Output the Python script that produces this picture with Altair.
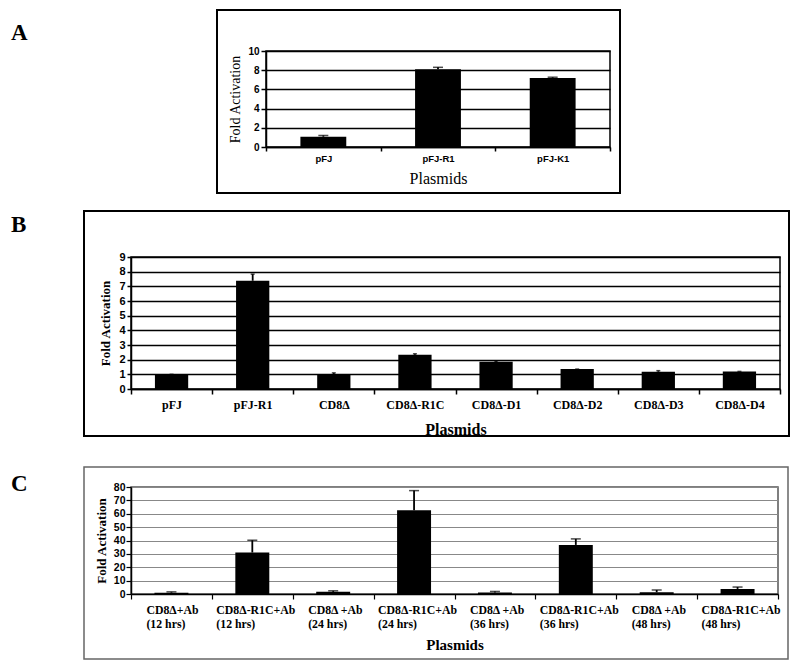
import altair as alt
import pandas as pd

# ---------------- data ----------------
A_cats = ["pFJ", "pFJ-R1", "pFJ-K1"]
A_vals = [1.07, 8.1, 7.2]
A_err = [0.13, 0.2, 0.07]

B_cats = ["pFJ", "pFJ-R1", "CD8Δ", "CD8Δ-R1C", "CD8Δ-D1", "CD8Δ-D2", "CD8Δ-D3", "CD8Δ-D4"]
B_vals = [1.0, 7.38, 1.03, 2.34, 1.86, 1.36, 1.18, 1.2]
B_err = [0.0, 0.45, 0.07, 0.06, 0.05, 0.0, 0.07, 0.0]

C_cats = ["CD8Δ+Ab|(12 hrs)", "CD8Δ-R1C+Ab|(12 hrs)", "CD8Δ +Ab|(24 hrs)", "CD8Δ-R1C+Ab|(24 hrs)",
          "CD8Δ +Ab|(36 hrs)", "CD8Δ-R1C+Ab|(36 hrs)", "CD8Δ +Ab|(48 hrs)", "CD8Δ-R1C+Ab|(48 hrs)"]
C_vals = [1.0, 31.0, 1.6, 62.7, 1.2, 36.7, 1.3, 3.8]
C_err = [0.6, 9.2, 0.8, 14.6, 0.7, 4.5, 1.7, 1.4]

A_ticks = [0, 2, 4, 6, 8, 10]
B_ticks = [0, 1, 2, 3, 4, 5, 6, 7, 8, 9]
C_ticks = [0, 10, 20, 30, 40, 50, 60, 70, 80]

SERIF = "Liberation Serif"
SANS = "Liberation Sans"
LETTER_X = -120


def one_row():
    return pd.DataFrame({"k": [0]})


def letter_layer(letter, ly):
    return alt.Chart(one_row()).mark_text(
        align="left", baseline="alphabetic", font=SERIF, fontWeight="bold", fontSize=23, color="black"
    ).encode(x=alt.value(LETTER_X), y=alt.value(ly), text=alt.value(letter))


def panel(cats, vals, errs, ymax, w, h, xaxis, yaxis, bar_frac, cap,
          frame, frame_color, frame_w, view_color, letter=None, extra=None):
    df = pd.DataFrame({"cat": cats, "val": vals, "top": [v + e for v, e in zip(vals, errs)]})
    x = alt.X("cat:N", sort=cats, scale=alt.Scale(paddingInner=0, paddingOuter=0), axis=xaxis)
    yscale = alt.Scale(domain=[0, ymax], nice=False)
    base = alt.Chart(df)
    bars = base.mark_bar(color="black", width=alt.RelativeBandSize(bar_frac)).encode(
        x=x, y=alt.Y("val:Q", scale=yscale, axis=yaxis)
    )
    rule = base.mark_rule(color="black", strokeWidth=1.8).encode(
        x=x, y=alt.Y("val:Q", scale=yscale, axis=yaxis), y2="top:Q"
    )
    capm = base.mark_tick(color="black", size=cap, thickness=1.5).encode(
        x=x, y=alt.Y("top:Q", scale=yscale, axis=yaxis)
    )
    fl, fr, ft, fb = frame
    box = alt.Chart(one_row()).mark_rect(filled=False, stroke=frame_color, strokeWidth=frame_w).encode(
        x=alt.value(fl), x2=alt.value(w + fr), y=alt.value(ft), y2=alt.value(h + fb)
    )
    layers = [bars, rule, capm, box]
    if extra is not None:
        layers += extra(base, x)
    if letter is not None:
        layers.append(letter_layer(*letter))
    return alt.layer(*layers).properties(
        width=w, height=h,
        view=alt.ViewBackground(stroke=view_color, strokeWidth=1.5),
    )


# ---------- Panel A ----------
A_w, A_h = 344, 96
A_x = alt.Axis(title="Plasmids", labelAngle=0, labelFont=SANS, labelFontWeight="bold", labelFontSize=9.5,
               labelColor="black", labelPadding=2, tickBand="extent", tickSize=4, tickColor="black",
               tickWidth=1.5, domainColor="black", domainWidth=1.5, titleFont=SERIF, titleFontWeight="normal",
               titleFontSize=16, titleColor="black", titlePadding=8, grid=False)
A_y = alt.Axis(title="Fold Activation", values=A_ticks, labelFont=SANS, labelFontWeight="bold",
               labelFontSize=10, labelColor="black", labelPadding=2, tickSize=5, tickColor="black",
               tickWidth=1.5, domainColor="black", domainWidth=1.5, gridColor="black", gridWidth=1.5,
               titleFont=SERIF, titleFontWeight="normal", titleFontSize=14, titleColor="black",
               titlePadding=5)
pA = panel(A_cats, A_vals, A_err, 10, A_w, A_h, A_x, A_y, 0.4, 10,
           (-49, 10, -41, 46), "black", 2, "black")
spacerA = letter_layer("A", -11).properties(
    width=84, height=A_h, view=alt.ViewBackground(strokeOpacity=0)
)
groupA = alt.hconcat(spacerA, pA, spacing=0)

# ---------- Panel B ----------
B_w, B_h = 649, 132
B_x = alt.Axis(title="Plasmids", labelAngle=0, labelFont=SERIF, labelFontWeight="bold", labelFontSize=12,
               labelColor="black", labelPadding=5, tickBand="extent", tickSize=5, tickColor="black",
               tickWidth=1.5, domainColor="black", domainWidth=1.5, titleFont=SERIF, titleFontWeight="bold",
               titleFontSize=16, titleColor="black", titlePadding=11, grid=False)
B_y = alt.Axis(title="Fold Activation", values=B_ticks, labelFont=SANS, labelFontWeight="bold",
               labelFontSize=11, labelColor="black", labelPadding=2, tickSize=4, tickColor="black",
               tickWidth=1.5, domainColor="black", domainWidth=1.5, gridColor="black", gridWidth=1.3,
               titleFont=SERIF, titleFontWeight="bold", titleFontSize=13, titleColor="black",
               titlePadding=6)
pB = panel(B_cats, B_vals, B_err, 9, B_w, B_h, B_x, B_y, 0.41, 4,
           (-47, 9, -46, 47), "black", 2, "black", letter=("B", -25))

# ---------- Panel C ----------
C_w, C_h = 647, 107
C_x = alt.Axis(title="Plasmids", labels=False,
               tickBand="extent", tickSize=5, tickColor="black",
               tickWidth=1.2, domainColor="black", domainWidth=1.5, titleFont=SERIF, titleFontWeight="bold",
               titleFontSize=15, titleColor="black", titlePadding=38, grid=False)
C_y = alt.Axis(title="Fold Activation", values=C_ticks, labelFont=SANS, labelFontWeight="bold",
               labelFontSize=10.5, labelColor="black", labelPadding=1, tickSize=5, tickColor="black",
               tickWidth=1.2, domainColor="black", domainWidth=1.5, gridColor="#888888", gridWidth=1,
               titleFont=SERIF, titleFontWeight="bold", titleFontSize=13, titleColor="black",
               titlePadding=5)


def c_labels(base, x):
    out = []
    for test, dx in [("indexof(datum.cat, 'R1C') >= 0", -36), ("indexof(datum.cat, 'R1C') < 0", -25)]:
        out.append(
            base.transform_filter(test).mark_text(
                align="left", baseline="top", lineBreak="|", lineHeight=14, dx=dx,
                font=SERIF, fontWeight="bold", fontSize=11.8, color="black",
            ).encode(x=x, y=alt.value(C_h + 11), text="cat:N")
        )
    return out


pC = panel(C_cats, C_vals, C_err, 80, C_w, C_h, C_x, C_y, 0.42, 10,
           (-47, 10, -20, 65), "#666666", 1.5, "#555555", letter=("C", 4), extra=c_labels)

chart = alt.vconcat(
    alt.vconcat(groupA, pB, spacing=14),
    pC,
    spacing=27,
).properties(
    padding={"left": 2, "top": 0, "right": 0, "bottom": 0},
    background="white",
)

chart.save("out.html", embed_options={"renderer": "svg", "actions": False})
